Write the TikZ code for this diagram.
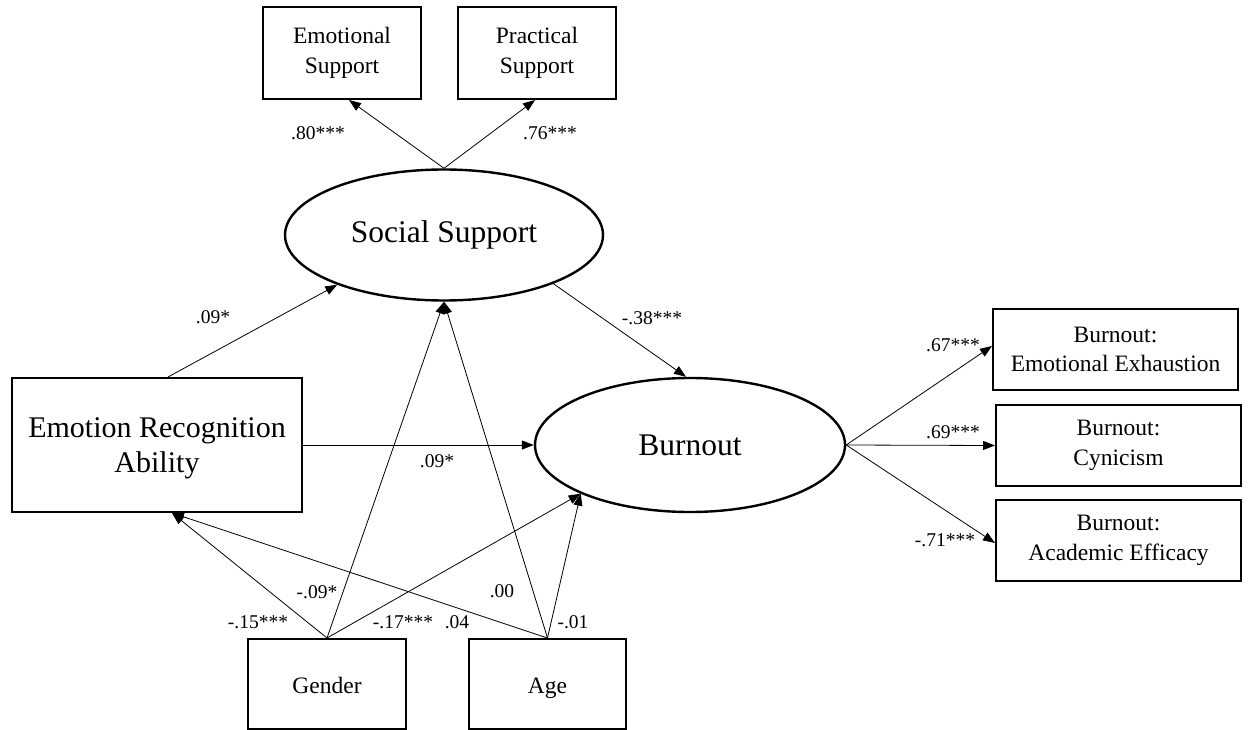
\documentclass[tikz,border=0pt]{standalone}
\usepackage{fontspec}
\setmainfont{Liberation Serif}
\usetikzlibrary{arrows.meta,calc,shapes.geometric}

\tikzset{
  box/.style={draw, line width=2pt, inner sep=0pt, align=center,
              font=\fontsize{23.5}{29.5}\selectfont},
  latent/.style={draw, ellipse, line width=2.4pt, inner sep=0pt,
                 font=\fontsize{31.5}{36}\selectfont},
  lbl/.style={font=\fontsize{19.5}{22}\selectfont, inner sep=0pt},
  path/.style={line width=0.8pt, -{Triangle[length=12pt,width=9pt]}},
}
% vertical spacer for the single-line covariate boxes
\newcommand{\covstrut}{\rule[-9pt]{0pt}{36pt}}

\begin{document}
\begin{tikzpicture}[x=1pt, y=-1pt]
  \useasboundingbox (0,0) rectangle (1258,730);

  % latent variables
  \node[latent, minimum width=318pt, minimum height=131pt] (ss) at (444,235) {Social Support};
  \node[latent, minimum width=310pt, minimum height=134pt] (bo) at (690,445) {Burnout};

  % observed variables
  \node[box, minimum width=158pt, minimum height=92pt] (es) at (342,53) {Emotional\\Support};
  \node[box, minimum width=158pt, minimum height=92pt] (ps) at (537,53) {Practical\\Support};
  \node[box, minimum width=290pt, minimum height=134pt,
        font=\fontsize{30}{35}\selectfont] (era) at (157,445)
        {\rule{0pt}{26pt}Emotion Recognition\\Ability};
  \node[box, minimum width=158pt, minimum height=90pt] (gen) at (327,684) {\covstrut Gender};
  \node[box, minimum width=157pt, minimum height=90pt] (age) at (547.5,684) {\covstrut Age};
  \node[box, minimum width=245pt, minimum height=81pt] (ee) at (1115.5,349.5) {Burnout:\\Emotional Exhaustion};
  \node[box, minimum width=245pt, minimum height=81pt] (cy) at (1118.5,445.5) {Burnout:\\Cynicism};
  \node[box, minimum width=245pt, minimum height=81pt] (ae) at (1118.5,540.5) {Burnout:\\Academic Efficacy};

  % measurement paths
  \draw[path] (ss.north) -- ($(es.south)+(7,0)$);
  \draw[path] (ss.north) -- ($(ps.south)+(-2,0)$);
  \draw[path] (bo.east) -- ($(ee.west)+(0,-3.5)$);
  \draw[path] (bo.east) -- (cy.west);
  \draw[path] (bo.east) -- ($(ae.west)+(0,2.5)$);

  % structural paths
  \draw[path] ($(era.north)+(11,0)$) -- (ss.205);
  \draw[path] (era.east) -- (bo.west);
  \draw[path] (ss.336) -- ($(bo.north)+(-4,0)$);

  % covariates
  \draw[path] (gen.north) -- ($(era.south)+(15,0)$);
  \draw[path] (age.north) -- ($(era.south)+(15,0)$);
  \draw[path] (gen.north) -- (ss.south);
  \draw[path] (age.north) -- (ss.south);
  \draw[path] (gen.north) -- (bo.204);
  \draw[path] (age.north) -- (bo.204);

  % coefficients
  \node[lbl] (l1) at (318,133) {.80***};
  \node[lbl] (l2) at (550,133) {.76***};
  \node[lbl] (l3) at (213,317) {.09*};
  \node[lbl] (l4) at (437,461) {.09*};
  \node[lbl] (l5) at (652,318) {-.38***};
  \node[lbl] (l6) at (953,345) {.67***};
  \node[lbl] (l7) at (953,432) {.69***};
  \node[lbl] (l8) at (945,540) {-.71***};
  \node[lbl] (l9) at (317,592) {-.09*};
  \node[lbl] (l10) at (258,622) {-.15***};
  \node[lbl] (l11) at (403,622) {-.17***};
  \node[lbl] (l12) at (457,622) {.04};
  \node[lbl] (l13) at (502,591) {.00};
  \node[lbl] (l14) at (573,622) {-.01};
\end{tikzpicture}
\end{document}
